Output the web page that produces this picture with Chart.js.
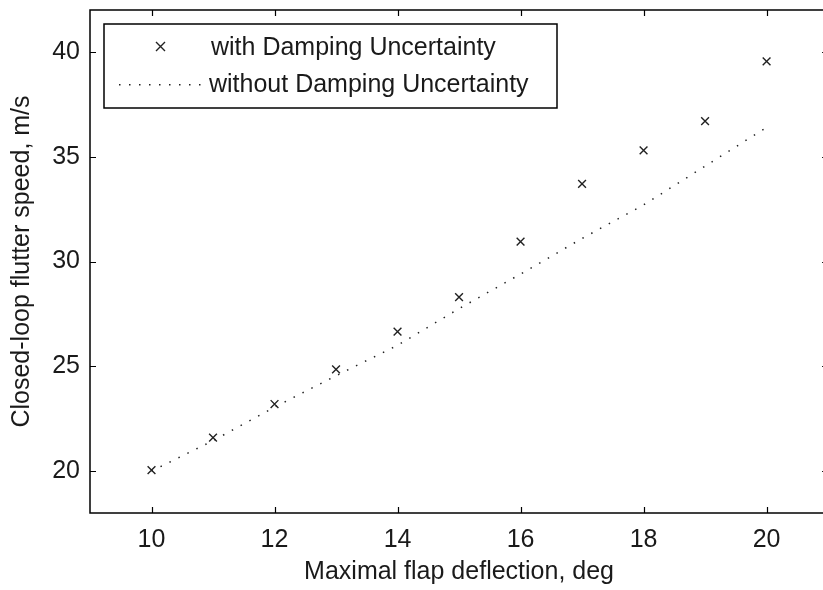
<!DOCTYPE html>
<html>
<head>
<meta charset="utf-8">
<script src="https://cdn.jsdelivr.net/npm/chart.js@4/dist/chart.umd.min.js"></script>
<style>
  html, body { margin: 0; padding: 0; background: #fff; overflow: hidden; }
  #wrap { width: 823px; height: 590px; overflow: hidden; }
</style>
</head>
<body>
<div id="wrap"><canvas id="c" width="835" height="590"></canvas></div>
<script>
// deflection (deg) vs closed-loop flutter speed (m/s)
const deflection = [10, 11, 12, 13, 14, 15, 16, 17, 18, 19, 20];
const withDamping = [20.05, 21.6, 23.2, 24.85, 26.65, 28.3, 30.95, 33.7, 35.3, 36.7, 39.55];
const withoutDamping = [20.0, 21.45, 23.05, 24.55, 26.0, 27.75, 29.4, 31.1, 32.7, 34.55, 36.4];
const xTicks = [10, 12, 14, 16, 18, 20];
const yTicks = [20, 25, 30, 35, 40];

const FONT = 'Liberation Sans, Arial, sans-serif';
const FS = 25;
const INK = '#1a1a1a';

// MATLAB style box: inward ticks on all 4 sides + legend in the top-left
const boxPlugin = {
  id: 'box',
  afterDraw(chart) {
    const { ctx, chartArea: a, scales } = chart;
    ctx.save();
    ctx.strokeStyle = '#000';
    ctx.lineWidth = 1.5;
    ctx.strokeRect(a.left, a.top, a.right - a.left, a.bottom - a.top);
    ctx.lineWidth = 1.2;
    const tl = 6;
    ctx.beginPath();
    xTicks.forEach(v => {
      const px = Math.round(scales.x.getPixelForValue(v)) + 0.5;
      ctx.moveTo(px, a.bottom); ctx.lineTo(px, a.bottom - tl);
      ctx.moveTo(px, a.top); ctx.lineTo(px, a.top + tl);
    });
    yTicks.forEach(v => {
      const py = Math.round(scales.y.getPixelForValue(v)) + 0.5;
      ctx.moveTo(a.left, py); ctx.lineTo(a.left + tl, py);
      ctx.moveTo(a.right, py); ctx.lineTo(a.right - tl, py);
    });
    ctx.stroke();

    // legend
    const lx = 104, ly = 24, lw = 453, lh = 84;
    ctx.fillStyle = '#fff';
    ctx.fillRect(lx, ly, lw, lh);
    ctx.lineWidth = 1.5;
    ctx.strokeRect(lx, ly, lw, lh);
    ctx.font = FS + 'px ' + FONT;
    ctx.fillStyle = INK;
    ctx.textBaseline = 'alphabetic';
    const ds = chart.data.datasets;
    // entry 1: x marker
    ctx.lineWidth = 1.4;
    ctx.strokeStyle = '#222';
    const mx = 160.5, my = 46.5, r = 4.5;
    ctx.beginPath();
    ctx.moveTo(mx - r, my - r); ctx.lineTo(mx + r, my + r);
    ctx.moveTo(mx - r, my + r); ctx.lineTo(mx + r, my - r);
    ctx.stroke();
    ctx.fillText(ds[0].label, 211, 55);
    // entry 2: dotted line
    ctx.fillStyle = '#222';
    for (let x = 119; x <= 202; x += 10) ctx.fillRect(x, 84, 1.5, 1.5);
    ctx.fillStyle = INK;
    ctx.fillText(ds[1].label, 209, 92);
    ctx.restore();
  }
};

new Chart(document.getElementById('c'), {
  type: 'line',
  data: {
    datasets: [
      {
        label: 'with Damping Uncertainty',
        data: deflection.map((x, i) => ({ x, y: withDamping[i] })),
        showLine: false,
        pointStyle: 'crossRot',
        pointRadius: 5.5,
        pointBorderWidth: 1.4,
        borderColor: '#222',
        backgroundColor: '#222'
      },
      {
        label: 'without Damping Uncertainty',
        data: deflection.map((x, i) => ({ x, y: withoutDamping[i] })),
        borderColor: '#222',
        borderWidth: 1.5,
        borderDash: [1.5, 8.5],
        pointRadius: 0,
        tension: 0
      }
    ]
  },
  options: {
    responsive: false,
    animation: false,
    layout: { padding: { left: 0, top: 10, right: 6, bottom: 0 } },
    plugins: { legend: { display: false }, tooltip: { enabled: false } },
    scales: {
      x: {
        type: 'linear', min: 9, max: 21,
        grid: { display: false, drawTicks: false },
        border: { display: false },
        afterBuildTicks: s => { s.ticks = xTicks.map(v => ({ value: v })); },
        afterFit: s => { s.height = 77; s.paddingLeft = 0; s.paddingRight = 0; },
        ticks: { color: INK, padding: 12, font: { family: FONT, size: FS } },
        title: {
          display: true, text: 'Maximal flap deflection, deg', color: INK,
          font: { family: FONT, size: FS }, padding: { top: 0, bottom: 3 }
        }
      },
      y: {
        type: 'linear', min: 18, max: 42,
        grid: { display: false, drawTicks: false },
        border: { display: false },
        afterBuildTicks: s => { s.ticks = yTicks.map(v => ({ value: v })); },
        afterFit: s => { s.width = 90; s.paddingTop = 0; s.paddingBottom = 0; },
        ticks: { color: INK, padding: 10, font: { family: FONT, size: FS } },
        title: {
          display: true, text: 'Closed-loop flutter speed, m/s', color: INK,
          font: { family: FONT, size: FS }, padding: { top: 7, bottom: 0 }
        }
      }
    }
  },
  plugins: [boxPlugin]
});
</script>
</body>
</html>
